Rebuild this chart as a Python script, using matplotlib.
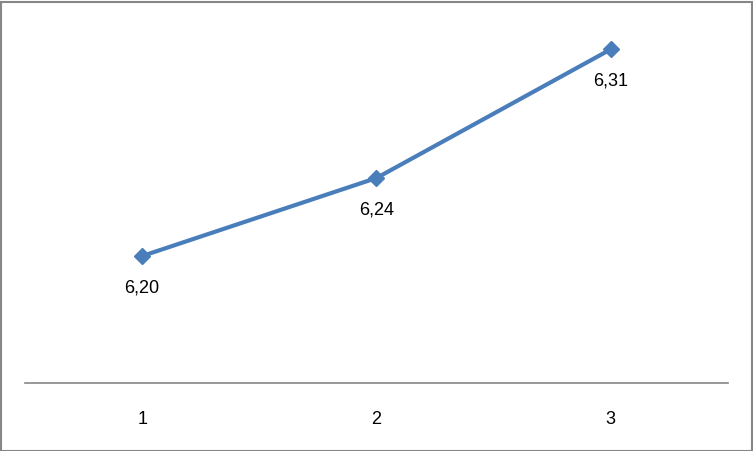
import matplotlib
matplotlib.use("Agg")
import matplotlib.pyplot as plt
from matplotlib.patches import Rectangle

# data
categories = [1, 2, 3]
values = [6.200, 6.240, 6.306]
labels = ["6,20", "6,24", "6,31"]

W, H = 753, 451
fig = plt.figure(figsize=(W / 100, H / 100), dpi=100)

# plot area: x from 25 to 728 px, y from 20 to 383 px (top-down)
ax = fig.add_axes([25 / W, 1 - 383 / H, (728 - 25) / W, (383 - 20) / H])

line_color = "#4A7EBB"
ax.plot(categories, values, color=line_color, linewidth=3,
        marker="D", markersize=8, markerfacecolor=line_color,
        markeredgecolor=line_color, solid_capstyle="round")

for x, y, lab in zip(categories, values, labels):
    ax.annotate(lab, (x, y), xytext=(0, -23), textcoords="offset points",
                ha="center", va="center", fontsize=13,
                family="Liberation Sans", color="black")

ax.set_xlim(0.5, 3.5)
ax.set_ylim(6.1349, 6.321)

for side in ["top", "right", "left"]:
    ax.spines[side].set_visible(False)
ax.spines["bottom"].set_color("#868686")
ax.spines["bottom"].set_linewidth(1.2)
ax.set_yticks([])
ax.set_xticks(categories)
ax.set_xticklabels([str(c) for c in categories], family="Liberation Sans",
                   fontsize=13)
ax.tick_params(axis="x", length=0, pad=20)
ax.patch.set_alpha(0)

# outer chart border
fig.patches.append(Rectangle((0.5 / W, 0.5 / H), 1 - 2 / W, 1 - 2 / H,
                             transform=fig.transFigure, fill=False,
                             edgecolor="#868686", linewidth=1.5))

plt.savefig("out.png", dpi=100)
plt.close()
